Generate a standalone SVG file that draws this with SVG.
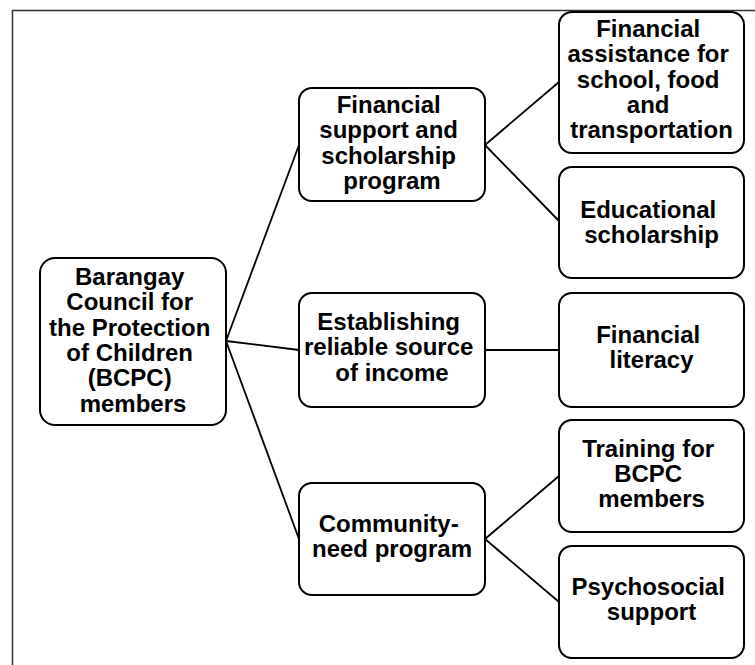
<svg xmlns="http://www.w3.org/2000/svg" width="755" height="665" viewBox="0 0 755 665">
  <style>
    .box { fill: #ffffff; stroke: #000000; stroke-width: 2; }
    .lbl { font-family: "Liberation Sans", Arial, sans-serif; font-weight: bold; font-size: 24px; fill: #000000; text-anchor: middle; }
    .link { stroke: #000000; stroke-width: 1.8; fill: none; }
    .frame { stroke: #333333; stroke-width: 1.5; fill: none; }
  </style>
  <rect x="0" y="0" width="755" height="665" fill="#ffffff"/>
  <!-- outer frame: top and left edges only -->
  <path class="frame" d="M12.5,665 V10.5 H755"/>

  <g id="connectors">
    <line class="link" x1="226" y1="341" x2="299" y2="145"/>
    <line class="link" x1="226" y1="341" x2="299" y2="350"/>
    <line class="link" x1="226" y1="341" x2="299" y2="539"/>
    <line class="link" x1="485" y1="145" x2="559" y2="82"/>
    <line class="link" x1="485" y1="145" x2="559" y2="221"/>
    <line class="link" x1="485" y1="350" x2="559" y2="350"/>
    <line class="link" x1="485" y1="539" x2="559" y2="476"/>
    <line class="link" x1="485" y1="539" x2="559" y2="602"/>
  </g>

  <g id="bcpc">
    <rect class="box" x="40" y="258" width="186" height="167" rx="15"/>
    <text class="lbl" x="133">
      <tspan x="133" y="285">Barangay</tspan>
      <tspan x="133" y="310.3">Council for</tspan>
      <tspan x="133" y="335.6">the Protection</tspan>
      <tspan x="133" y="360.9">of Children</tspan>
      <tspan x="133" y="386.2">(BCPC)</tspan>
      <tspan x="133" y="411.5">members</tspan>
    </text>
  </g>

  <g id="financial-support">
    <rect class="box" x="299" y="88" width="186" height="113" rx="13"/>
    <text class="lbl">
      <tspan x="392" y="113">Financial</tspan>
      <tspan x="392" y="138.3">support and</tspan>
      <tspan x="392" y="163.6">scholarship</tspan>
      <tspan x="392" y="188.9">program</tspan>
    </text>
  </g>

  <g id="reliable-income">
    <rect class="box" x="299" y="293" width="186" height="114" rx="13"/>
    <text class="lbl">
      <tspan x="392" y="330">Establishing</tspan>
      <tspan x="392" y="355.3">reliable source</tspan>
      <tspan x="392" y="380.6">of income</tspan>
    </text>
  </g>

  <g id="community-need">
    <rect class="box" x="299" y="483" width="186" height="112" rx="13"/>
    <text class="lbl">
      <tspan x="392" y="531.5">Community-</tspan>
      <tspan x="392" y="556.8">need program</tspan>
    </text>
  </g>

  <g id="financial-assistance">
    <rect class="box" x="559" y="12" width="185" height="141" rx="13"/>
    <text class="lbl">
      <tspan x="651.5" y="37">Financial</tspan>
      <tspan x="651.5" y="62.3">assistance for</tspan>
      <tspan x="651.5" y="87.6">school, food</tspan>
      <tspan x="651.5" y="112.9">and</tspan>
      <tspan x="651.5" y="138.2">transportation</tspan>
    </text>
  </g>

  <g id="educational-scholarship">
    <rect class="box" x="559" y="167" width="185" height="111" rx="13"/>
    <text class="lbl">
      <tspan x="651.5" y="218">Educational</tspan>
      <tspan x="651.5" y="243.3">scholarship</tspan>
    </text>
  </g>

  <g id="financial-literacy">
    <rect class="box" x="559" y="293" width="185" height="114" rx="13"/>
    <text class="lbl">
      <tspan x="651.5" y="343">Financial</tspan>
      <tspan x="651.5" y="368.3">literacy</tspan>
    </text>
  </g>

  <g id="bcpc-training">
    <rect class="box" x="559" y="420" width="185" height="112" rx="13"/>
    <text class="lbl">
      <tspan x="651.5" y="456.5">Training for</tspan>
      <tspan x="651.5" y="481.8">BCPC</tspan>
      <tspan x="651.5" y="507.1">members</tspan>
    </text>
  </g>

  <g id="psychosocial-support">
    <rect class="box" x="559" y="546" width="185" height="112" rx="13"/>
    <text class="lbl">
      <tspan x="651.5" y="595">Psychosocial</tspan>
      <tspan x="651.5" y="620.3">support</tspan>
    </text>
  </g>
</svg>
